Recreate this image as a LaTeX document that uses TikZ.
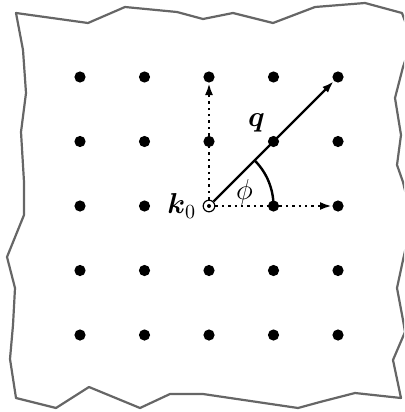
\documentclass[tikz,border=0pt]{standalone}
\usepackage{amsmath,amssymb}
\usepackage{tikz}
\usetikzlibrary{positioning,arrows.meta}

\begin{document}
\begin{tikzpicture}[
  x=0.5pt, y=-0.5pt,
  site/.style={circle, fill=black, minimum size=5.6pt, inner sep=0pt},
  origin/.style={circle, draw, line width=0.6pt, fill=white,
    minimum size=5.8pt, inner sep=0pt},
  sheet/.style={draw=black!60, line width=1.1pt, line join=round, fill=white},
  lab/.style={font=\Large, inner sep=1pt},
  vec/.style={-{Latex[length=6pt,width=4pt]}, line width=1.2pt},
  dotvec/.style={-{Latex[length=6pt,width=4pt]}, line width=1.2pt, dotted}
]
\clip (0,0) rectangle (404,412);

% --- torn sheet ---
\draw[sheet] (16,13) -- (88,23) -- (125,7) -- (177,12) -- (203,19) -- (233,13)
  -- (273,23) -- (315,7) -- (365,3) -- (402,13) -- (412,40) -- (403,67)
  -- (395,98) -- (401,135) -- (397,165) -- (403,182) -- (412,220) -- (403,260)
  -- (397,288) -- (403,320) -- (405,332) -- (393,360) -- (401,398) -- (355,393)
  -- (320,402) -- (298,408) -- (203,394) -- (170,394) -- (140,408) -- (89,387)
  -- (56,408) -- (16,398) -- (10,359) -- (13,325) -- (15,288) -- (7,257)
  -- (24,215) -- (24,182) -- (21,132) -- (26,93) -- (23,50) -- cycle;

% --- lattice sites ---
\foreach \i in {0,...,4}
  \foreach \j in {0,...,4}{
    \ifnum\i\j=22 \else
      \node[site] (d-\i-\j) at ({80+64.5*\i},{77+64.5*\j}) {};
    \fi
  }

% --- origin k0 ---
\node[origin] (k0) at ({80+64.5*2},{77+64.5*2}) {};
\fill (k0.center) circle (1pt);
\node[lab, left=2pt of k0] (k0lab) {$\boldsymbol{k}_0$};

% --- vectors ---
\draw[dotvec] (k0) -- (d-2-0);
\draw[dotvec] (k0) -- (d-4-2);
\draw[vec] (k0) -- node[lab, pos=0.5, above left=4pt] (qlab) {$\boldsymbol{q}$} (d-4-0);

% --- angle ---
\draw[line width=1.2pt] (d-3-2.center) arc[start angle=0, end angle=45, radius=32.25pt];
\node[lab] (philab) at ([shift={(21:19pt)}]k0.center) {$\phi$};

\end{tikzpicture}
\end{document}
